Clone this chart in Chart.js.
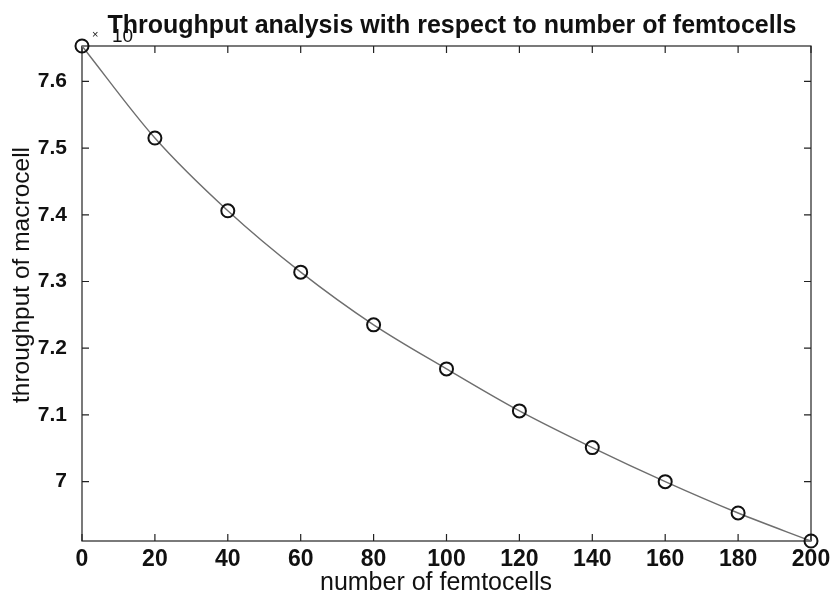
<!DOCTYPE html>
<html><head><meta charset="utf-8">
<script src="https://cdn.jsdelivr.net/npm/chart.js@4"></script>
<style>html,body{margin:0;padding:0;background:#fff;}</style>
</head><body>
<canvas id="c" width="830" height="598"></canvas>
<script>
const femtocells = [0, 20, 40, 60, 80, 100, 120, 140, 160, 180, 200];
const throughput = [7.653, 7.515, 7.406, 7.314, 7.235, 7.169, 7.106, 7.051, 7.000, 6.953, 6.911];
const xTicks = [0, 20, 40, 60, 80, 100, 120, 140, 160, 180, 200];
const yTicks = [7, 7.1, 7.2, 7.3, 7.4, 7.5, 7.6];
const xRange = [0, 200];
const yRange = [6.911, 7.653];
const titleText = 'Throughput analysis with respect to number of femtocells';
const xLabel = 'number of femtocells';
const yLabel = 'throughput of macrocell';
const exponentText = ['×', '10'];

const FONT = '"Liberation Sans", Arial, sans-serif';

const framePlugin = {
  id: 'frame',
  beforeDatasetsDraw(chart) {
    const {ctx, chartArea: a, scales} = chart;
    ctx.save();
    ctx.strokeStyle = '#222';
    ctx.lineWidth = 1.2;
    ctx.strokeRect(a.left, a.top, a.right - a.left, a.bottom - a.top);
    const L = 7;
    ctx.beginPath();
    xTicks.forEach(v => {
      const px = scales.x.getPixelForValue(v);
      ctx.moveTo(px, a.bottom); ctx.lineTo(px, a.bottom - L);
      ctx.moveTo(px, a.top); ctx.lineTo(px, a.top + L);
    });
    yTicks.forEach(v => {
      const py = scales.y.getPixelForValue(v);
      ctx.moveTo(a.left, py); ctx.lineTo(a.left + L, py);
      ctx.moveTo(a.right, py); ctx.lineTo(a.right - L, py);
    });
    ctx.stroke();
    ctx.restore();
  },
  afterDraw(chart) {
    const {ctx, chartArea: a} = chart;
    ctx.save();
    ctx.fillStyle = '#111';
    // title
    ctx.textAlign = 'center';
    ctx.textBaseline = 'alphabetic';
    ctx.font = 'bold 25px ' + FONT;
    ctx.fillText(titleText, 452, a.top - 13);
    // x axis title
    ctx.font = '25px ' + FONT;
    ctx.fillText(xLabel, 436, 590);
    // y axis title
    ctx.save();
    ctx.translate(22, 275);
    ctx.rotate(-Math.PI / 2);
    ctx.textBaseline = 'middle';
    ctx.font = '24.5px ' + FONT;
    ctx.fillText(yLabel, 0, 0);
    ctx.restore();
    // exponent
    ctx.textAlign = 'left';
    ctx.textBaseline = 'alphabetic';
    ctx.font = '11px ' + FONT;
    ctx.fillText(exponentText[0], a.left + 10, a.top - 8);
    ctx.font = '19px ' + FONT;
    ctx.fillText(exponentText[1], a.left + 30, a.top - 4);
    ctx.restore();
  }
};

new Chart(document.getElementById('c'), {
  type: 'line',
  data: {
    labels: femtocells,
    datasets: [{
      data: femtocells.map((x, i) => ({x: x, y: throughput[i]})),
      borderColor: '#6e6e6e',
      borderWidth: 1.4,
      cubicInterpolationMode: 'monotone',
      pointRadius: 6.5,
      pointBorderWidth: 2,
      pointBorderColor: '#111',
      pointBackgroundColor: 'rgba(255,255,255,0)',
      clip: false,
      fill: false
    }]
  },
  options: {
    responsive: false,
    animation: false,
    layout: {padding: {left: 0, right: 19, top: 46, bottom: 0}},
    plugins: {
      legend: {display: false},
      tooltip: {enabled: false},
      title: {display: false}
    },
    scales: {
      x: {
        type: 'linear',
        min: xRange[0], max: xRange[1],
        afterBuildTicks: s => { s.ticks = xTicks.map(v => ({value: v})); },
        afterFit: s => { s.height = 57; s.paddingLeft = 0; s.paddingRight = 0; },
        grid: {display: false, drawTicks: false},
        border: {display: false},
        ticks: {
          color: '#111', padding: 5,
          font: {family: FONT, size: 23, weight: 'bold'},
          maxRotation: 0, autoSkip: false,
          callback: v => String(v)
        }
      },
      y: {
        type: 'linear',
        min: yRange[0], max: yRange[1],
        afterBuildTicks: s => { s.ticks = yTicks.map(v => ({value: v})); },
        afterFit: s => { s.width = 82; s.paddingTop = 0; s.paddingBottom = 0; },
        grid: {display: false, drawTicks: false},
        border: {display: false},
        ticks: {
          color: '#111', padding: 15,
          font: {family: FONT, size: 21, weight: 'bold'},
          autoSkip: false,
          callback: v => String(Math.round(v * 10) / 10)
        }
      }
    }
  },
  plugins: [framePlugin]
});
</script>
</body></html>
